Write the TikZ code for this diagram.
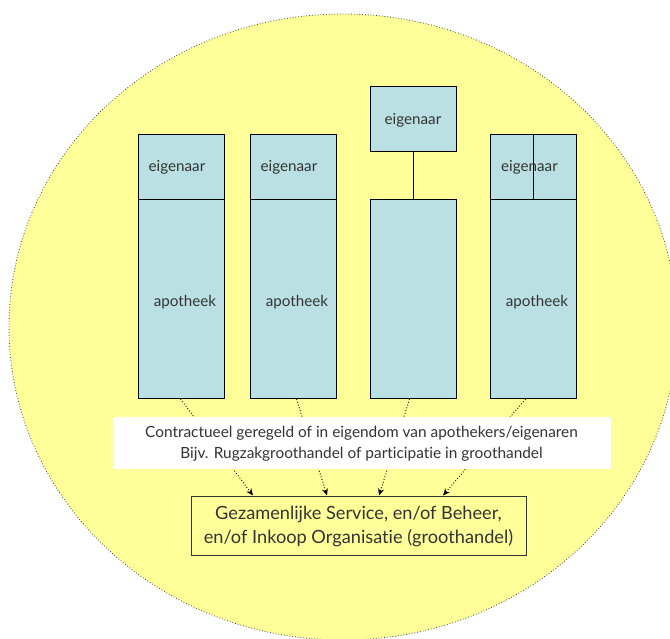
\documentclass[tikz,border=0pt]{standalone}
\usepackage{fontspec}
\setmainfont{Lato}[Ligatures=CommonOff]
\usetikzlibrary{arrows.meta}
\definecolor{bgyellow}{HTML}{FFFF99}
\definecolor{boxblue}{HTML}{BBE0E3}
\definecolor{txt}{HTML}{333333}
\tikzset{
  cell/.style={draw=black, line width=1.1bp, fill=boxblue, inner sep=0pt, anchor=north west},
  lbl/.style={text=txt, inner sep=0pt, font=\fontsize{15.2bp}{18bp}\selectfont},
  flow/.style={dotted, line width=0.9bp, -{Stealth[length=7bp,width=6bp]}},
}
\begin{document}
\begin{tikzpicture}[x=1bp,y=-1bp]
\useasboundingbox (0,0) rectangle (670,639);
% big ellipse
\begin{scope}
\clip (0,0) rectangle (670,639);
\draw[fill=bgyellow, draw=black!75, dotted, line width=0.8bp] (343,327) ellipse [x radius=334, y radius=313];
\end{scope}
% column 1
\node[cell, minimum width=86bp, minimum height=65bp] (o1) at (138,134) {};
\node[cell, minimum width=86bp, minimum height=199bp] (p1) at (138,199) {};
% column 2
\node[cell, minimum width=86bp, minimum height=65bp] (o2) at (250,134) {};
\node[cell, minimum width=86bp, minimum height=199bp] (p2) at (250,199) {};
% column 3
\node[cell, minimum width=86bp, minimum height=65bp] (o3) at (370,86) {};
\node[cell, minimum width=86bp, minimum height=199bp] (p3) at (370,199) {};
\draw[line width=1.1bp] (o3.south) -- (p3.north);
% column 4
\node[cell, minimum width=43bp, minimum height=65bp] (o4a) at (490,134) {};
\node[cell, minimum width=43bp, minimum height=65bp] (o4b) at (533,134) {};
\node[cell, minimum width=86bp, minimum height=199bp] (p4) at (490,199) {};
% labels
\node[lbl] (e1) at (177,167) {eigenaar};
\node[lbl] (e2) at (289,167) {eigenaar};
\node[lbl] (e3) at (413,120) {eigenaar};
\node[lbl] (e4) at (529.5,167) {eigenaar};
\node[lbl] (a1) at (185,302) {apotheek};
\node[lbl] (a2) at (297,302) {apotheek};
\node[lbl] (a4) at (537,302) {apotheek};
% bottom box
\node[draw=txt, line width=1bp, fill=bgyellow, minimum width=335bp, minimum height=59bp, inner sep=0pt] (g) at (358.5,525.5) {};
\node[text=txt, align=center, font=\fontsize{18.2bp}{24bp}\selectfont] (gt) at (358.5,526) {Gezamenlijke Service, en/of Beheer,\\en/of Inkoop Organisatie (groothandel)};
% arrows
\draw[flow] ([xshift=-1bp]p1.south) -- ([xshift=-105.5bp]g.north);
\draw[flow] ([xshift=3bp]p2.south) -- ([xshift=-31.5bp]g.north);
\draw[flow] ([xshift=-4bp]p3.south) -- ([xshift=20.5bp]g.north);
\draw[flow] ([xshift=-8bp]p4.south) -- ([xshift=84.5bp]g.north);
% white note box
\node[fill=white, minimum width=498bp, minimum height=52bp, inner sep=0pt] (w) at (362,443) {};
\node[text=txt, align=center, font=\fontsize{15.4bp}{20.5bp}\selectfont] (wt) at (361.5,443.5) {Contractueel geregeld of in eigendom van apothekers/eigenaren\\Bijv. Rugzakgroothandel of participatie in groothandel};
\end{tikzpicture}
\end{document}
